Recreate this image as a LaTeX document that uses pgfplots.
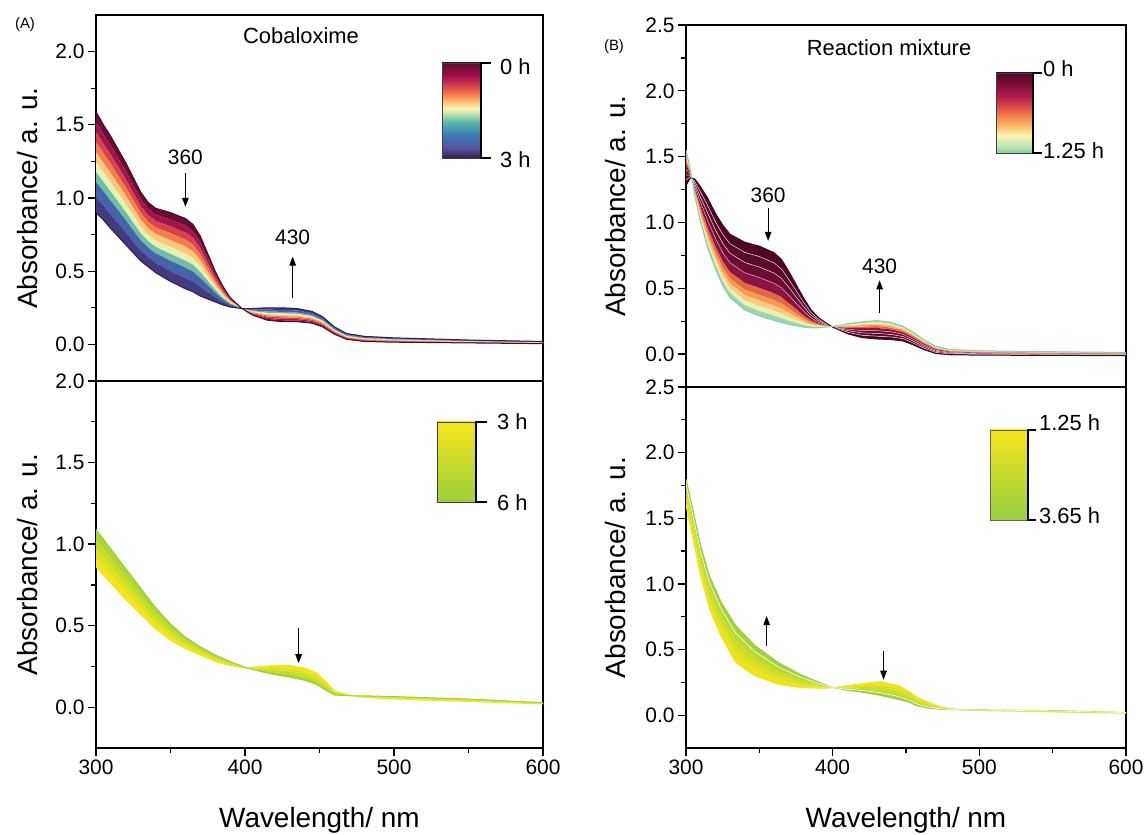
\documentclass[border=0pt]{standalone}
\usepackage{fontspec}
\setmainfont{Liberation Sans}
\usepackage{pgfplots}
\pgfplotsset{compat=1.18}
\usepackage{pgfplotstable}
\usepgfplotslibrary{fillbetween}
\usetikzlibrary{arrows.meta}

% band colours
\definecolor{AT0}{HTML}{6A0C37}
\definecolor{AT1}{HTML}{A3154A}
\definecolor{AT2}{HTML}{D4434E}
\definecolor{AT3}{HTML}{F47D4A}
\definecolor{AT4}{HTML}{FDC67A}
\definecolor{AT5}{HTML}{E6F2B3}
\definecolor{AT6}{HTML}{6DBDA8}
\definecolor{AT7}{HTML}{4463A8}
\definecolor{AT8}{HTML}{45397F}
\definecolor{ATtop}{HTML}{4D0A2A}
\definecolor{ATbot}{HTML}{2E2050}

\definecolor{AB0}{HTML}{F3E41E}
\definecolor{AB1}{HTML}{DDE120}
\definecolor{AB2}{HTML}{C6DD27}
\definecolor{AB3}{HTML}{ACD535}
\definecolor{ABtop}{HTML}{9CCF3D}
\definecolor{ABbot}{HTML}{F5E61C}

\definecolor{BT0}{HTML}{4F0622}
\definecolor{BT1}{HTML}{5C0A2C}
\definecolor{BT2}{HTML}{6A0C33}
\definecolor{BT3}{HTML}{8E1242}
\definecolor{BT4}{HTML}{E4683F}
\definecolor{BT5}{HTML}{F79A55}
\definecolor{BT6}{HTML}{FDCB7E}
\definecolor{BT7}{HTML}{E9F2B6}
\definecolor{BT8}{HTML}{9AD6AE}
\definecolor{BTtop}{HTML}{45041F}
\definecolor{BTend}{HTML}{86CFA8}

\definecolor{BB0}{HTML}{EDE41E}
\definecolor{BB1}{HTML}{DEE120}
\definecolor{BB2}{HTML}{CDDD25}
\definecolor{BB3}{HTML}{BAD92E}
\definecolor{BB4}{HTML}{A6D339}
\definecolor{BBy}{HTML}{F4E51C}
\definecolor{BBg}{HTML}{98CF41}

% colour bar stops
\definecolor{ca0}{HTML}{2E2051}
\definecolor{ca1}{HTML}{5A4F9C}
\definecolor{ca2}{HTML}{3A7FB8}
\definecolor{ca3}{HTML}{5CB8A6}
\definecolor{ca4}{HTML}{A9DCB1}
\definecolor{ca5}{HTML}{FCF6B8}
\definecolor{ca6}{HTML}{FDBA6C}
\definecolor{ca7}{HTML}{F47A48}
\definecolor{ca8}{HTML}{D5424D}
\definecolor{ca9}{HTML}{A5114A}
\definecolor{ca10}{HTML}{5C0A2E}

\definecolor{cb0}{HTML}{86CFA8}
\definecolor{cb1}{HTML}{C3E7B1}
\definecolor{cb2}{HTML}{FCF4B3}
\definecolor{cb3}{HTML}{FDBF6F}
\definecolor{cb4}{HTML}{F5874B}
\definecolor{cb5}{HTML}{DE4F4C}
\definecolor{cb6}{HTML}{B41E4B}
\definecolor{cb7}{HTML}{8A0E40}
\definecolor{cb8}{HTML}{4D0626}

\pgfdeclareverticalshading{cbarA}{100bp}{color(0bp)=(ca0); color(25bp)=(ca0); color(30bp)=(ca1); color(37.5bp)=(ca2); color(44bp)=(ca3); color(47.5bp)=(ca4); color(51bp)=(ca5); color(55bp)=(ca6); color(58.5bp)=(ca7); color(63bp)=(ca8); color(68bp)=(ca9); color(75bp)=(ca10); color(100bp)=(ca10)}
\pgfdeclareverticalshading{cbarB}{100bp}{color(0bp)=(cb0); color(25bp)=(cb0); color(30bp)=(cb1); color(36bp)=(cb2); color(41.5bp)=(cb3); color(47.5bp)=(cb4); color(53.5bp)=(cb5); color(60bp)=(cb6); color(66.5bp)=(cb7); color(75bp)=(cb8); color(100bp)=(cb8)}

\pgfplotstableread{
wl c0 c1 c2 c3 c4 c5 c6 c7 c8 c9
300 1.590 1.521 1.452 1.383 1.314 1.245 1.176 1.107 1.004 0.900
305 1.500 1.435 1.370 1.305 1.240 1.175 1.110 1.045 0.948 0.850
310 1.420 1.357 1.294 1.231 1.168 1.105 1.042 0.979 0.885 0.790
320 1.240 1.184 1.128 1.072 1.016 0.960 0.904 0.848 0.764 0.680
330 1.040 0.993 0.946 0.899 0.852 0.805 0.758 0.711 0.640 0.570
335 0.970 0.926 0.882 0.838 0.794 0.750 0.706 0.662 0.596 0.530
340 0.930 0.886 0.842 0.798 0.754 0.710 0.666 0.622 0.556 0.490
350 0.900 0.853 0.806 0.759 0.712 0.665 0.618 0.571 0.500 0.430
360 0.860 0.812 0.764 0.716 0.668 0.620 0.572 0.524 0.452 0.380
365 0.820 0.774 0.728 0.682 0.636 0.590 0.544 0.498 0.429 0.360
370 0.740 0.699 0.658 0.617 0.576 0.535 0.494 0.453 0.392 0.330
375 0.620 0.589 0.558 0.527 0.496 0.465 0.434 0.403 0.357 0.310
380 0.500 0.479 0.458 0.437 0.416 0.395 0.374 0.353 0.322 0.290
385 0.400 0.387 0.374 0.361 0.348 0.335 0.322 0.309 0.290 0.270
390 0.320 0.314 0.307 0.301 0.294 0.288 0.281 0.275 0.265 0.255
398 0.245 0.245 0.245 0.245 0.245 0.245 0.245 0.245 0.245 0.245
405 0.200 0.205 0.209 0.214 0.218 0.223 0.227 0.232 0.238 0.245
415 0.165 0.174 0.182 0.191 0.199 0.208 0.216 0.225 0.237 0.250
425 0.155 0.165 0.174 0.184 0.193 0.203 0.212 0.222 0.236 0.250
435 0.155 0.164 0.173 0.182 0.191 0.200 0.209 0.218 0.232 0.245
445 0.145 0.153 0.161 0.169 0.177 0.185 0.193 0.201 0.213 0.225
452 0.120 0.127 0.134 0.141 0.148 0.155 0.162 0.169 0.180 0.190
460 0.070 0.075 0.080 0.085 0.090 0.095 0.100 0.105 0.113 0.120
468 0.035 0.039 0.043 0.047 0.051 0.055 0.059 0.063 0.069 0.075
480 0.020 0.024 0.027 0.031 0.034 0.038 0.041 0.045 0.050 0.055
500 0.015 0.018 0.021 0.024 0.027 0.030 0.033 0.036 0.041 0.045
550 0.010 0.012 0.014 0.016 0.018 0.020 0.022 0.024 0.027 0.030
600 0.005 0.007 0.008 0.010 0.011 0.013 0.014 0.016 0.018 0.020
}\dataAT

\pgfplotstableread{
wl c0 c1 c2 c3 c4
300 0.860 0.918 0.975 1.033 1.090
310 0.760 0.813 0.865 0.918 0.970
320 0.660 0.708 0.755 0.803 0.850
330 0.570 0.610 0.650 0.690 0.730
340 0.480 0.513 0.545 0.578 0.610
350 0.410 0.435 0.460 0.485 0.510
360 0.360 0.378 0.395 0.413 0.430
370 0.320 0.333 0.345 0.358 0.370
380 0.280 0.290 0.300 0.310 0.320
390 0.255 0.261 0.268 0.274 0.280
400 0.240 0.241 0.243 0.244 0.245
410 0.250 0.243 0.235 0.228 0.220
420 0.255 0.241 0.228 0.214 0.200
430 0.255 0.238 0.220 0.203 0.185
440 0.240 0.221 0.203 0.184 0.165
448 0.210 0.193 0.175 0.158 0.140
455 0.150 0.138 0.125 0.113 0.100
460 0.100 0.094 0.088 0.081 0.075
470 0.075 0.074 0.073 0.071 0.070
480 0.060 0.063 0.065 0.068 0.070
500 0.050 0.054 0.058 0.061 0.065
550 0.035 0.039 0.043 0.046 0.050
600 0.020 0.022 0.024 0.026 0.028
}\dataAB

\pgfplotstableread{
wl c0 c1 c2 c3 c4 c5 c6 c7 c8 c9
300 1.280 1.321 1.361 1.402 1.442 1.469 1.491 1.512 1.531 1.550
303 1.340 1.349 1.358 1.367 1.376 1.382 1.387 1.392 1.396 1.400
306 1.330 1.311 1.291 1.272 1.252 1.239 1.229 1.218 1.209 1.200
310 1.270 1.230 1.189 1.149 1.108 1.081 1.059 1.038 1.019 1.000
315 1.180 1.123 1.066 1.009 0.952 0.914 0.884 0.853 0.827 0.800
320 1.070 1.007 0.944 0.881 0.818 0.776 0.742 0.709 0.679 0.650
325 0.980 0.911 0.842 0.773 0.704 0.658 0.621 0.584 0.552 0.520
330 0.910 0.838 0.766 0.694 0.622 0.574 0.536 0.497 0.464 0.430
340 0.850 0.773 0.696 0.618 0.541 0.490 0.448 0.407 0.371 0.335
350 0.820 0.741 0.661 0.582 0.502 0.449 0.407 0.364 0.327 0.290
360 0.770 0.693 0.616 0.538 0.461 0.410 0.368 0.327 0.291 0.255
365 0.720 0.648 0.576 0.504 0.432 0.384 0.346 0.307 0.274 0.240
370 0.630 0.569 0.509 0.448 0.387 0.347 0.314 0.282 0.253 0.225
375 0.530 0.483 0.436 0.388 0.341 0.310 0.284 0.259 0.237 0.215
380 0.430 0.396 0.363 0.329 0.295 0.273 0.255 0.237 0.221 0.205
385 0.340 0.319 0.298 0.277 0.256 0.242 0.231 0.220 0.210 0.200
390 0.280 0.268 0.256 0.244 0.232 0.224 0.218 0.211 0.206 0.200
395 0.240 0.235 0.230 0.224 0.219 0.216 0.213 0.210 0.207 0.205
400 0.205 0.206 0.207 0.207 0.208 0.209 0.209 0.209 0.210 0.210
410 0.155 0.166 0.178 0.189 0.200 0.208 0.214 0.220 0.225 0.230
420 0.125 0.143 0.161 0.179 0.197 0.209 0.219 0.228 0.237 0.245
430 0.115 0.136 0.157 0.178 0.199 0.213 0.224 0.235 0.245 0.255
440 0.110 0.130 0.149 0.169 0.188 0.201 0.211 0.222 0.231 0.240
448 0.100 0.117 0.133 0.150 0.166 0.177 0.186 0.195 0.202 0.210
455 0.070 0.084 0.099 0.113 0.127 0.137 0.144 0.152 0.158 0.165
462 0.035 0.046 0.058 0.069 0.080 0.088 0.094 0.100 0.105 0.110
470 0.005 0.013 0.022 0.030 0.038 0.044 0.048 0.052 0.056 0.060
480 -0.005 0.001 0.007 0.013 0.019 0.023 0.026 0.029 0.032 0.035
500 -0.008 -0.003 0.002 0.007 0.012 0.015 0.018 0.020 0.023 0.025
550 -0.010 -0.006 -0.002 0.003 0.007 0.010 0.012 0.014 0.016 0.018
600 -0.012 -0.008 -0.005 -0.001 0.002 0.005 0.007 0.009 0.010 0.012
}\dataBT

\pgfplotstableread{
wl c0 c1 c2 c3 c4 c5
300 1.600 1.640 1.680 1.720 1.760 1.800
305 1.330 1.374 1.418 1.462 1.506 1.550
310 1.060 1.106 1.152 1.198 1.244 1.290
316 0.810 0.860 0.910 0.960 1.010 1.060
324 0.600 0.652 0.704 0.756 0.808 0.860
334 0.400 0.456 0.512 0.568 0.624 0.680
347 0.300 0.346 0.392 0.438 0.484 0.530
363 0.235 0.268 0.301 0.334 0.367 0.400
378 0.210 0.230 0.250 0.270 0.290 0.310
394 0.205 0.211 0.217 0.223 0.229 0.235
401 0.210 0.210 0.210 0.210 0.210 0.210
410 0.225 0.218 0.211 0.204 0.197 0.190
420 0.240 0.227 0.214 0.201 0.188 0.175
433 0.255 0.234 0.213 0.192 0.171 0.150
445 0.225 0.204 0.183 0.162 0.141 0.120
452 0.180 0.164 0.148 0.132 0.116 0.100
458 0.135 0.122 0.109 0.096 0.083 0.070
465 0.100 0.091 0.082 0.073 0.064 0.055
473 0.065 0.061 0.057 0.053 0.049 0.045
480 0.050 0.048 0.047 0.045 0.044 0.042
500 0.035 0.036 0.037 0.038 0.039 0.040
550 0.025 0.027 0.029 0.031 0.033 0.035
600 0.015 0.016 0.017 0.018 0.019 0.020
}\dataBB

\tikzset{
  arr/.style={-{Triangle[length=9bp,width=6.5bp]}, line width=1.2bp, black},
  ann/.style={font=\fontsize{21}{25}\selectfont},
}
\pgfplotsset{
  myaxis/.style={
    scale only axis,
    xmin=300, xmax=600,
    axis line style={line width=1.5bp},
    tick style={line width=1.3bp, black},
    major tick length=8bp, minor tick length=5bp,
    tick align=outside,
    tick pos=left,
    minor y tick num=1,
    minor x tick num=1,
    xtick={300,400,500,600},
    tick label style={font=\fontsize{21}{25}\selectfont},
    /pgf/number format/assume math mode=true,
    yticklabel style={/pgf/number format/fixed, /pgf/number format/fixed zerofill, /pgf/number format/precision=1},
    label style={font=\fontsize{28}{32}\selectfont},
    ylabel={Absorbance/ a. u.},
  },
}

\begin{document}
\begin{tikzpicture}

% ---------------- A top ----------------
\begin{axis}[myaxis, at={(96bp,454bp)}, anchor=south west, width=447bp, height=366bp,
  ymin=-0.25, ymax=2.25, ytick={0,0.5,1,1.5,2}, xtick=\empty,
  ylabel style={at={(axis description cs:-0.154,0.5)}, anchor=center}]
\pgfplotsinvokeforeach{0,...,9}{\addplot[draw=none, name path=p#1] table[x=wl,y=c#1]{\dataAT};}
\addplot[fill=AT0, draw=none] fill between[of=p0 and p1];
\addplot[fill=AT1, draw=none] fill between[of=p1 and p2];
\addplot[fill=AT2, draw=none] fill between[of=p2 and p3];
\addplot[fill=AT3, draw=none] fill between[of=p3 and p4];
\addplot[fill=AT4, draw=none] fill between[of=p4 and p5];
\addplot[fill=AT5, draw=none] fill between[of=p5 and p6];
\addplot[fill=AT6, draw=none] fill between[of=p6 and p7];
\addplot[fill=AT7, draw=none] fill between[of=p7 and p8];
\addplot[fill=AT8, draw=none] fill between[of=p8 and p9];
\addplot[line width=1bp, color=ATtop] table[x=wl,y=c0]{\dataAT};
\addplot[line width=1bp, color=ATbot] table[x=wl,y=c9]{\dataAT};
\node[ann] at (axis cs:360,1.28) {360};
\draw[arr] (axis cs:360,1.17) -- (axis cs:360,0.94);
\node[ann] at (axis cs:432,0.73) {430};
\draw[arr] (axis cs:432,0.32) -- (axis cs:432,0.60);
\end{axis}

% ---------------- A bottom ----------------
\begin{axis}[myaxis, at={(96bp,87bp)}, anchor=south west, width=447bp, height=367bp,
  ymin=-0.25, ymax=2.0, ytick={0,0.5,1,1.5,2},
  xlabel={Wavelength/ nm},
  xlabel style={at={(axis description cs:0.5,-0.196)}, anchor=center},
  ylabel style={at={(axis description cs:-0.154,0.5)}, anchor=center}]
\pgfplotsinvokeforeach{0,...,4}{\addplot[draw=none, name path=q#1] table[x=wl,y=c#1]{\dataAB};}
\addplot[fill=AB0, draw=none] fill between[of=q0 and q1];
\addplot[fill=AB1, draw=none] fill between[of=q1 and q2];
\addplot[fill=AB2, draw=none] fill between[of=q2 and q3];
\addplot[fill=AB3, draw=none] fill between[of=q3 and q4];
\addplot[line width=1bp, color=ABbot] table[x=wl,y=c0]{\dataAB};
\addplot[line width=1bp, color=ABtop] table[x=wl,y=c4]{\dataAB};
\draw[arr] (axis cs:436,0.485) -- (axis cs:436,0.27);
\end{axis}

% ---------------- B top ----------------
\begin{axis}[myaxis, at={(686bp,448bp)}, anchor=south west, width=440bp, height=362bp,
  ymin=-0.25, ymax=2.5, ytick={0,0.5,1,1.5,2,2.5}, xtick=\empty,
  ylabel style={at={(axis description cs:-0.161,0.5)}, anchor=center}]
\pgfplotsinvokeforeach{0,...,9}{\addplot[draw=none, name path=r#1] table[x=wl,y=c#1]{\dataBT};}
\addplot[fill=BT0, draw=none] fill between[of=r0 and r1];
\addplot[fill=BT1, draw=none] fill between[of=r1 and r2];
\addplot[fill=BT2, draw=none] fill between[of=r2 and r3];
\addplot[fill=BT3, draw=none] fill between[of=r3 and r4];
\addplot[fill=BT4, draw=none] fill between[of=r4 and r5];
\addplot[fill=BT5, draw=none] fill between[of=r5 and r6];
\addplot[fill=BT6, draw=none] fill between[of=r6 and r7];
\addplot[fill=BT7, draw=none] fill between[of=r7 and r8];
\addplot[fill=BT8, draw=none] fill between[of=r8 and r9];
\addplot[line width=0.5bp, color=white!85!BT0] table[x=wl,y=c1]{\dataBT};
\addplot[line width=0.5bp, color=white!85!BT0] table[x=wl,y=c2]{\dataBT};
\addplot[line width=0.5bp, color=white!70!BT0] table[x=wl,y=c3]{\dataBT};
\addplot[line width=1bp, color=BTtop] table[x=wl,y=c0]{\dataBT};
\addplot[line width=1bp, color=BTend] table[x=wl,y=c9]{\dataBT};
\node[ann] at (axis cs:356,1.206) {360};
\draw[arr] (axis cs:356,1.11) -- (axis cs:356,0.86);
\node[ann] at (axis cs:432,0.67) {430};
\draw[arr] (axis cs:432,0.31) -- (axis cs:432,0.56);
\end{axis}

% ---------------- B bottom ----------------
\begin{axis}[myaxis, at={(686bp,87bp)}, anchor=south west, width=440bp, height=361bp,
  ymin=-0.25, ymax=2.5, ytick={0,0.5,1,1.5,2,2.5},
  xlabel={Wavelength/ nm},
  xlabel style={at={(axis description cs:0.5,-0.199)}, anchor=center},
  ylabel style={at={(axis description cs:-0.161,0.5)}, anchor=center}]
\pgfplotsinvokeforeach{0,...,5}{\addplot[draw=none, name path=s#1] table[x=wl,y=c#1]{\dataBB};}
\addplot[fill=BB0, draw=none] fill between[of=s0 and s1];
\addplot[fill=BB1, draw=none] fill between[of=s1 and s2];
\addplot[fill=BB2, draw=none] fill between[of=s2 and s3];
\addplot[fill=BB3, draw=none] fill between[of=s3 and s4];
\addplot[fill=BB4, draw=none] fill between[of=s4 and s5];
\addplot[line width=1bp, color=BBy] table[x=wl,y=c0]{\dataBB};
\addplot[line width=1bp, color=BBg] table[x=wl,y=c5]{\dataBB};
\addplot[line width=0.6bp, color=white] table[x=wl,y=c4]{\dataBB};
\draw[arr] (axis cs:355,0.53) -- (axis cs:355,0.755);
\draw[arr] (axis cs:434.7,0.49) -- (axis cs:434.7,0.27);
\end{axis}

% ---------------- texts ----------------
\node[font=\fontsize{15}{18}\selectfont] at (25bp,810bp) {(A)};
\node[font=\fontsize{15}{18}\selectfont] at (614bp,788bp) {(B)};
\node[font=\fontsize{22}{26}\selectfont] at (301bp,799bp) {Cobaloxime};
\node[font=\fontsize{22}{26}\selectfont] at (889bp,787bp) {Reaction mixture};

% ---------------- colour bars ----------------
% A top
\shade[shading=cbarA] (442bp,677bp) rectangle (481bp,772bp);
\draw[line width=0.8bp, black!75] (442bp,677bp) rectangle (481bp,772bp);
\draw[line width=1.2bp] (491bp,772bp) -- (481bp,772bp) -- (481bp,677bp) -- (491bp,677bp);
\node[anchor=west, font=\fontsize{22}{26}\selectfont, inner sep=0pt] at (500bp,768bp) {0 h};
\node[anchor=west, font=\fontsize{22}{26}\selectfont, inner sep=0pt] at (500bp,675bp) {3 h};
% A bottom
\shade[top color=ABbot, bottom color=ABtop] (437bp,333bp) rectangle (476bp,413bp);
\draw[line width=0.8bp, black!75] (437bp,333bp) rectangle (476bp,413bp);
\draw[line width=1.2bp] (487bp,413bp) -- (476bp,413bp) -- (476bp,333bp) -- (487bp,333bp);
\node[anchor=west, font=\fontsize{22}{26}\selectfont, inner sep=0pt] at (497bp,413bp) {3 h};
\node[anchor=west, font=\fontsize{22}{26}\selectfont, inner sep=0pt] at (497bp,332bp) {6 h};
% B top
\shade[shading=cbarB] (996bp,682bp) rectangle (1033bp,762bp);
\draw[line width=0.8bp, black!75] (996bp,682bp) rectangle (1033bp,762bp);
\draw[line width=1.2bp] (1042bp,762bp) -- (1033bp,762bp) -- (1033bp,682bp) -- (1042bp,682bp);
\node[anchor=west, font=\fontsize{22}{26}\selectfont, inner sep=0pt] at (1043bp,766bp) {0 h};
\node[anchor=west, font=\fontsize{22}{26}\selectfont, inner sep=0pt] at (1043bp,684bp) {1.25 h};
% B bottom
\shade[top color=BBy, bottom color=BBg] (990bp,315bp) rectangle (1028bp,405bp);
\draw[line width=0.8bp, black!60] (990bp,315bp) rectangle (1028bp,405bp);
\draw[line width=1.2bp] (1036bp,405bp) -- (1028bp,405bp) -- (1028bp,315bp) -- (1036bp,315bp);
\node[anchor=west, font=\fontsize{22}{26}\selectfont, inner sep=0pt] at (1039bp,412bp) {1.25 h};
\node[anchor=west, font=\fontsize{22}{26}\selectfont, inner sep=0pt] at (1039bp,319bp) {3.65 h};

\pgfresetboundingbox
\useasboundingbox (0,0) rectangle (1146bp,835bp);
\end{tikzpicture}
\end{document}
